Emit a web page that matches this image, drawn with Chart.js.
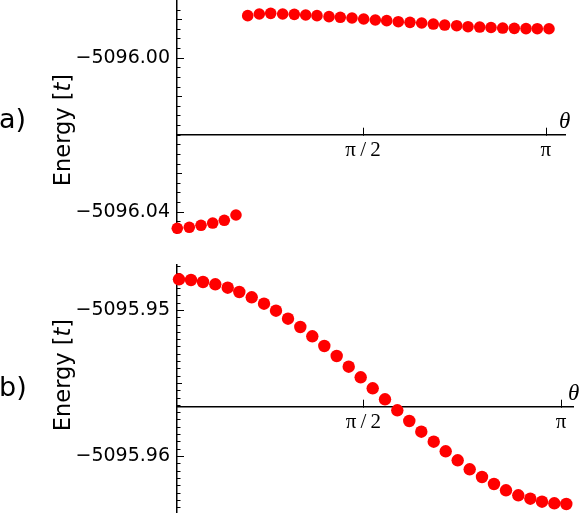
<!DOCTYPE html>
<html>
<head>
<meta charset="utf-8">
<script src="https://cdn.jsdelivr.net/npm/chart.js@4.4.1/dist/chart.umd.min.js"></script>
<style>
body { margin: 0; background: #fff; width: 581px; height: 513px; position: relative; overflow: hidden; font-family: 'DejaVu Sans', sans-serif; }
canvas { position: absolute; left: 0; }
.lbl { position: absolute; color: #000; white-space: nowrap; line-height: 1; }
.panel { font-size: 27px; }
.ylab { font-size: 22.5px; transform: translate(-50%, -50%) rotate(-90deg); }
.theta { font-family: 'Liberation Serif', serif; font-style: italic; font-size: 23px; }
</style>
</head>
<body>
<canvas id="chartA" width="581" height="245" style="top:0"></canvas>
<canvas id="chartB" width="581" height="263" style="top:250px"></canvas>
<div class="lbl panel" style="left:-1px;top:105px">a)</div>
<div class="lbl panel" style="left:-1px;top:373px">b)</div>
<div class="lbl ylab" style="left:62px;top:130px">Energy [<i>t</i>]</div>
<div class="lbl ylab" style="left:62px;top:375px">Energy [<i>t</i>]</div>
<div class="lbl theta" style="left:559px;top:109px">θ</div>
<div class="lbl theta" style="left:568px;top:381px">θ</div>
<script>
// panel a) - theta in units of pi, energy in t
const thetaA = [-0.0082, 0.0246, 0.0567, 0.0887, 0.1204, 0.1524,
    0.1845, 0.2162, 0.2474, 0.2802, 0.3120, 0.3432, 0.3741, 0.4070, 0.4379, 0.4699,
    0.5019, 0.5337, 0.5649, 0.5966, 0.6286, 0.6606, 0.6924, 0.7236, 0.7564, 0.7874,
    0.8194, 0.8503, 0.8823, 0.9141, 0.9461, 0.9770, 1.0090];
const energyA = [-5096.04431, -5096.04405, -5096.04353, -5096.04294, -5096.04223, -5096.04086,
    -5095.98908, -5095.98865, -5095.98848, -5095.98865, -5095.98874, -5095.98891, -5095.98908,
    -5095.98934, -5095.98951, -5095.98969, -5095.98995, -5095.99021, -5095.99038, -5095.99064,
    -5095.99081, -5095.99099, -5095.99125, -5095.99151, -5095.99168, -5095.99194, -5095.99203,
    -5095.99215, -5095.99229, -5095.99237, -5095.99244, -5095.99246, -5095.99248];

// panel b)
const thetaB = [0.0339, 0.0642, 0.0946, 0.1257, 0.1571, 0.1864, 0.2178, 0.2489, 0.2792,
    0.3096, 0.3407, 0.3710, 0.4014, 0.4327, 0.4631, 0.4934, 0.5238, 0.5549, 0.5860, 0.6163,
    0.6467, 0.6781, 0.7084, 0.7387, 0.7691, 0.8002, 0.8305, 0.8609, 0.8920, 0.9224, 0.9520,
    0.9831, 1.0134];
const energyB = [-5095.947897, -5095.947945, -5095.948082, -5095.948240, -5095.948473,
    -5095.948767, -5095.949130, -5095.949568, -5095.950048, -5095.950596, -5095.951164,
    -5095.951801, -5095.952466, -5095.953151, -5095.953884, -5095.954610, -5095.955363,
    -5095.956116, -5095.956870, -5095.957603, -5095.958336, -5095.959021, -5095.959678,
    -5095.960295, -5095.960911, -5095.961438, -5095.961918, -5095.962349, -5095.962692,
    -5095.962925, -5095.963130, -5095.963240, -5095.963288];

// tick labels
const xTickVals = [0.5, 1];
const xTickLabels = ['π\u2009/\u20092', 'π'];
const yTickValsA = [-5096.00, -5096.04];
const yTickLabelsA = ['\u22125096.00', '\u22125096.04'];
const yTickValsB = [-5095.95, -5095.96];
const yTickLabelsB = ['\u22125095.95', '\u22125095.96'];

// little inward ticks, Mathematica style
const inwardTicks = {
    id: 'inwardTicks',
    beforeDatasetsDraw(chart, args, opts) {
        const {ctx, chartArea} = chart;
        const x = chart.scales.x, y = chart.scales.y;
        ctx.save();
        ctx.strokeStyle = '#000';
        ctx.lineWidth = 1;
        const x0 = chartArea.left;
        for (let v = opts.minorStart; v <= y.max; v += opts.minorStep) {
            const py = Math.round(y.getPixelForValue(v)) + 0.5;
            if (py < chartArea.top || py > chartArea.bottom) continue;
            const isMajor = opts.major.some(m => Math.abs(m - v) < 1e-7);
            const isMid = opts.mid.some(m => Math.abs(m - v) < 1e-7);
            const len = isMajor ? 7 : (isMid ? 5 : 3.5);
            ctx.beginPath();
            ctx.moveTo(x0, py);
            ctx.lineTo(x0 + len, py);
            ctx.stroke();
        }
        const py0 = y.getPixelForValue(opts.cross);
        xTickVals.forEach(v => {
            const px = Math.round(x.getPixelForValue(v)) + 0.5;
            ctx.beginPath();
            ctx.moveTo(px, py0 + 1);
            ctx.lineTo(px, py0 - 7);
            ctx.stroke();
        });
        ctx.restore();
    }
};

function zeroPad(s) {
    s.paddingTop = 0; s.paddingBottom = 0; s.paddingLeft = 0; s.paddingRight = 0;
}

function makeChart(id, thetas, energies, opt) {
    const points = thetas.map((t, i) => ({x: t, y: energies[i]}));
    return new Chart(document.getElementById(id), {
        type: 'scatter',
        data: {
            datasets: [{
                data: points,
                backgroundColor: '#ff0000',
                borderWidth: 0,
                pointRadius: opt.radius,
                pointHoverRadius: opt.radius,
                clip: false
            }]
        },
        options: {
            responsive: false,
            animation: false,
            devicePixelRatio: 1,
            layout: {padding: opt.padding, autoPadding: false},
            plugins: {
                legend: {display: false},
                tooltip: {enabled: false},
                inwardTicks: opt.ticks
            },
            scales: {
                x: {
                    type: 'linear',
                    min: opt.xMin,
                    max: opt.xMax,
                    position: {y: opt.ticks.cross},
                    grid: {display: false, drawTicks: false},
                    border: {display: true, color: '#000', width: 1.5},
                    ticks: {
                        color: '#000',
                        padding: 3,
                        font: {family: 'Liberation Serif', size: 21},
                        callback: (v) => xTickLabels[xTickVals.indexOf(v)]
                    },
                    afterBuildTicks: s => { s.ticks = xTickVals.map(v => ({value: v})); },
                    afterFit: zeroPad
                },
                y: {
                    type: 'linear',
                    min: opt.yMin,
                    max: opt.yMax,
                    grid: {display: false, drawTicks: false},
                    border: {display: true, color: '#000', width: 1.5},
                    ticks: {
                        color: '#000',
                        padding: 7,
                        font: {family: 'DejaVu Sans', size: 19},
                        callback: (v) => opt.yLabels[opt.yVals.indexOf(v)]
                    },
                    afterBuildTicks: s => { s.ticks = opt.yVals.map(v => ({value: v})); },
                    afterFit: s => { s.width = 177; zeroPad(s); }
                }
            }
        },
        plugins: [inwardTicks]
    });
}

makeChart('chartA', thetaA, energyA, {
    radius: 5.8,
    padding: {left: 0, top: 0, right: 16, bottom: 12},
    xMin: -0.0090, xMax: 1.0528,
    yMin: -5096.04553, yMax: -5095.98501,
    yVals: yTickValsA, yLabels: yTickLabelsA,
    ticks: {cross: -5096.02, minorStart: -5096.05, minorStep: 0.0025,
            major: yTickValsA, mid: [-5096.01, -5096.03, -5095.99]}
});

makeChart('chartB', thetaB, energyB, {
    radius: 6.2,
    padding: {left: 0, top: 15, right: 8, bottom: 0},
    xMin: 0.02883, xMax: 1.03035,
    yMin: -5095.963904, yMax: -5095.946918,
    yVals: yTickValsB, yLabels: yTickLabelsB,
    ticks: {cross: -5095.956623, minorStart: -5095.9645, minorStep: 0.0005,
            major: yTickValsB, mid: [-5095.955, -5095.96]}
});
</script>
</body>
</html>
